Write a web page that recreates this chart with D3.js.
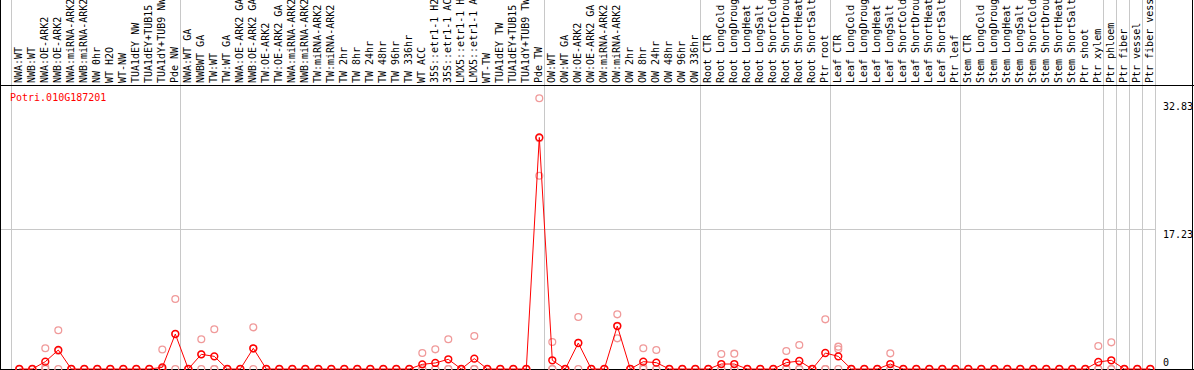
<!DOCTYPE html>
<html>
<head>
<meta charset="utf-8">
<script src="https://cdn.jsdelivr.net/npm/d3@7"></script>
<style>
  body { margin: 0; background: #fff; }
  svg { display: block; font-family: "DejaVu Sans Mono", monospace; font-size: 10px; }
</style>
</head>
<body>
<div id="chart"></div>
<script>
const geneId = 'Potri.010G187201';

const samples = [
  'NWA:WT', 'NWB:WT', 'NWA:OE-ARK2', 'NWB:OE-ARK2', 'NWA:miRNA-ARK2', 'NWB:miRNA-ARK2',
  'NW 0hr', 'WT H2O', 'WT-NW', 'TUA1dEY NW', 'TUA1dEY+TUB15 NW', 'TUA1dY+TUB9 NW', 'Pde NW',
  'NWA:WT GA', 'NWBWT GA', 'TW:WT', 'TW:WT GA', 'NWA:OE-ARK2 GA', 'NWB:OE-ARK2 GA',
  'TW:OE-ARK2', 'TW:OE-ARK2 GA', 'NWA:miRNA-ARK2', 'NWB:miRNA-ARK2', 'TW:miRNA-ARK2', 'TW:miRNA-ARK2',
  'TW 2hr', 'TW 8hr', 'TW 24hr', 'TW 48hr', 'TW 96hr', 'TW 336hr', 'WT ACC',
  '35S::etr1-1 H2O', '35S::etr1-1 ACC', 'LMX5::etr1-1 H2O', 'LMX5::etr1-1 ACC',
  'WT-TW', 'TUA1dEY TW', 'TUA1dEY+TUB15 TW', 'TUA1dY+TUB9 TW', 'Pde TW',
  'OW:WT', 'OW:WT GA', 'OW:OE-ARK2', 'OW:OE-ARK2 GA', 'OW:miRNA-ARK2', 'OW:miRNA-ARK2',
  'OW 2hr', 'OW 8hr', 'OW 24hr', 'OW 48hr', 'OW 96hr', 'OW 336hr',
  'Root CTR', 'Root LongCold', 'Root LongDrought', 'Root LongHeat', 'Root LongSalt',
  'Root ShortCold', 'Root ShortDrought', 'Root ShortHeat', 'Root ShortSalt', 'Ptr root',
  'Leaf CTR', 'Leaf LongCold', 'Leaf LongDrought', 'Leaf LongHeat', 'Leaf LongSalt',
  'Leaf ShortCold', 'Leaf ShortDrought', 'Leaf ShortHeat', 'Leaf ShortSalt', 'Ptr leaf',
  'Stem CTR', 'Stem LongCold', 'Stem LongDrought', 'Stem LongHeat', 'Stem LongSalt',
  'Stem ShortCold', 'Stem ShortDrought', 'Stem ShortHeat', 'Stem ShortSalt', 'Ptr shoot',
  'Ptr xylem', 'Ptr phloem', 'Ptr fiber', 'Ptr vessel', 'Ptr fiber vessel'
];

// mean expression per sample
const means = [
  0, 0, 0.9, 2.33, 0, 0, 0, 0, 0, 0, 0, 0.2, 4.29,
  0, 1.8, 1.55, 0, 0, 2.54, 0, 0, 0, 0, 0, 0,
  0, 0, 0, 0, 0, 0, 0.57, 0.74, 1.19, 0, 1.27, 0, 0, 0, 0, 28.4,
  1.07, 0, 3.19, 0, 0, 5.27, 0, 0.9, 0.78, 0, 0, 0,
  0, 0.61, 0.61, 0, 0, 0, 0.78, 0.98, 0, 1.96,
  1.55, 0, 0, 0, 0.61, 0, 0, 0, 0, 0,
  0, 0, 0, 0, 0, 0, 0, 0, 0, 0, 0.86,
  1.07, 0, 0, 0
];

// replicates
const repHigh = [
  0, 0, 2.54, 4.75, 0, 0, 0, 0, 0, 0, 0, 2.4, 8.58,
  0, 3.64, 4.87, 0, 0, 5.11, 0, 0, 0, 0, 0, 0,
  0, 0, 0, 0, 0, 0, 1.96, 2.41, 3.64, 0, 4.05, 0, 0, 0, 0, 33.2,
  3.31, 0, 6.38, 0, 0, 6.7, 0, 2.54, 2.33, 0, 0, 0,
  0, 1.84, 1.88, 0, 0, 0, 2.2, 2.94, 0, 6.09,
  2.74, 0, 0, 0, 1.92, 0, 0, 0, 0, 0,
  0, 0, 0, 0, 0, 0, 0, 0, 0, 0, 2.82,
  3.27, 0, 0, 0
];
const repMid = [
  0, 0, 0.2, 2.24, 0, 0, 0, 0, 0, 0, 0, 0, 4.29,
  0, 1.8, 0, 0, 0, 2.5, 0, 0, 0, 0, 0, 0,
  0, 0, 0, 0, 0, 0, 0, 0, 0, 0, 0, 0, 0, 0, 0, 28.3,
  0, 0, 3.2, 0, 0, 5.3, 0, 0.2, 0, 0, 0, 0,
  0, 0, 0, 0, 0, 0, 0.1, 0, 0, 0,
  2.41, 0, 0, 0, 0, 0, 0, 0, 0, 0,
  0, 0, 0, 0, 0, 0, 0, 0, 0, 0, 0,
  0, 0, 0, 0
];
const repLow = [
  0, 0, 0, 0, 0, 0, 0, 0, 0, 0, 0, 0, 0,
  0, 0, 0, 0, 0, 0, 0, 0, 0, 0, 0, 0,
  0, 0, 0, 0, 0, 0, 0, 0, 0, 0, 0, 0, 0, 0, 0, 23.7,
  0, 0, 0, 0, 0, 3.76, 0, 0, 0, 0, 0, 0,
  0, 0, 0, 0, 0, 0, 0, 0, 0, 0,
  0, 0, 0, 0, 0, 0, 0, 0, 0, 0,
  0, 0, 0, 0, 0, 0, 0, 0, 0, 0, 0,
  0, 0, 0, 0
];

// sample index where each group of columns starts (last = end)
const groupBreaks = [0, 13, 41, 53, 63, 73, 84, 85, 86, 87, 88];
const yTicks = [0, 17.23, 32.83];

const width = 1194, height = 370;
const plotTop = 85, plotBottom = 369;
const red = '#ff0000', pink = '#f09a9a', grid = '#c8c8c8';

const svg = d3.select('#chart').append('svg')
  .attr('width', width)
  .attr('height', height);

const x = d3.scaleBand()
  .domain(d3.range(samples.length))
  .range([11, 1155])
  .paddingInner(0);
const cx = i => x(i) + 8.3;

const y = d3.scaleLinear()
  .domain([0, d3.max(yTicks)])
  .range([plotBottom, 101.3]);

const crisp = v => Math.round(v) + 0.5;

// vertical group lines (run through label area too)
svg.append('g').selectAll('line')
  .data(groupBreaks)
  .join('line')
  .attr('x1', d => crisp(d < samples.length ? x(d) : x.range()[1]))
  .attr('x2', d => crisp(d < samples.length ? x(d) : x.range()[1]))
  .attr('y1', 0)
  .attr('y2', plotBottom)
  .attr('stroke', grid);

// horizontal gridline(s) between 0 and the max tick
svg.append('g').selectAll('line')
  .data(yTicks.filter(v => v > 0 && v < d3.max(yTicks)))
  .join('line')
  .attr('x1', 0)
  .attr('x2', x.range()[1])
  .attr('y1', d => crisp(y(d)))
  .attr('y2', d => crisp(y(d)))
  .attr('stroke', grid);

// sample labels
svg.append('g').selectAll('text')
  .data(samples)
  .join('text')
  .attr('transform', (d, i) => `translate(${cx(i) + 3},83) rotate(-90)`)
  .attr('fill', '#000')
  .text(d => d);

// frame
svg.append('line').attr('x1', 0).attr('x2', width).attr('y1', plotTop + 0.5).attr('y2', plotTop + 0.5).attr('stroke', '#000');
svg.append('line').attr('x1', 0).attr('x2', width).attr('y1', plotBottom + 0.5).attr('y2', plotBottom + 0.5).attr('stroke', '#000');
svg.append('line').attr('x1', 0.5).attr('x2', 0.5).attr('y1', 0).attr('y2', height).attr('stroke', '#000');
svg.append('line').attr('x1', width - 1.5).attr('x2', width - 1.5).attr('y1', 0).attr('y2', height).attr('stroke', '#000');

// y tick labels on the right
svg.append('g').selectAll('text')
  .data(yTicks)
  .join('text')
  .attr('x', 1163)
  .attr('y', d => d === 0 ? y(d) - 3 : y(d) + 9)
  .attr('fill', '#000')
  .text(d => d);

// title
svg.append('text')
  .attr('x', 10)
  .attr('y', 101)
  .attr('fill', red)
  .text(geneId);

// replicate points
const reps = [repHigh, repMid, repLow];
const g = svg.append('g');
reps.forEach(arr => {
  g.append('g').selectAll('circle')
    .data(arr)
    .join('circle')
    .attr('cx', (d, i) => cx(i))
    .attr('cy', d => y(d))
    .attr('r', 3.4)
    .attr('fill', 'none')
    .attr('stroke', pink)
    .attr('stroke-width', 1.3);
});

// mean line + points
const line = d3.line().x((d, i) => cx(i)).y(d => y(d));
g.append('path')
  .datum(means)
  .attr('fill', 'none')
  .attr('stroke', red)
  .attr('stroke-width', 1)
  .attr('d', line);

g.append('g').selectAll('circle')
  .data(means)
  .join('circle')
  .attr('cx', (d, i) => cx(i))
  .attr('cy', d => y(d))
  .attr('r', 3.4)
  .attr('fill', 'none')
  .attr('stroke', red)
  .attr('stroke-width', 1.5);
</script>
</body>
</html>
